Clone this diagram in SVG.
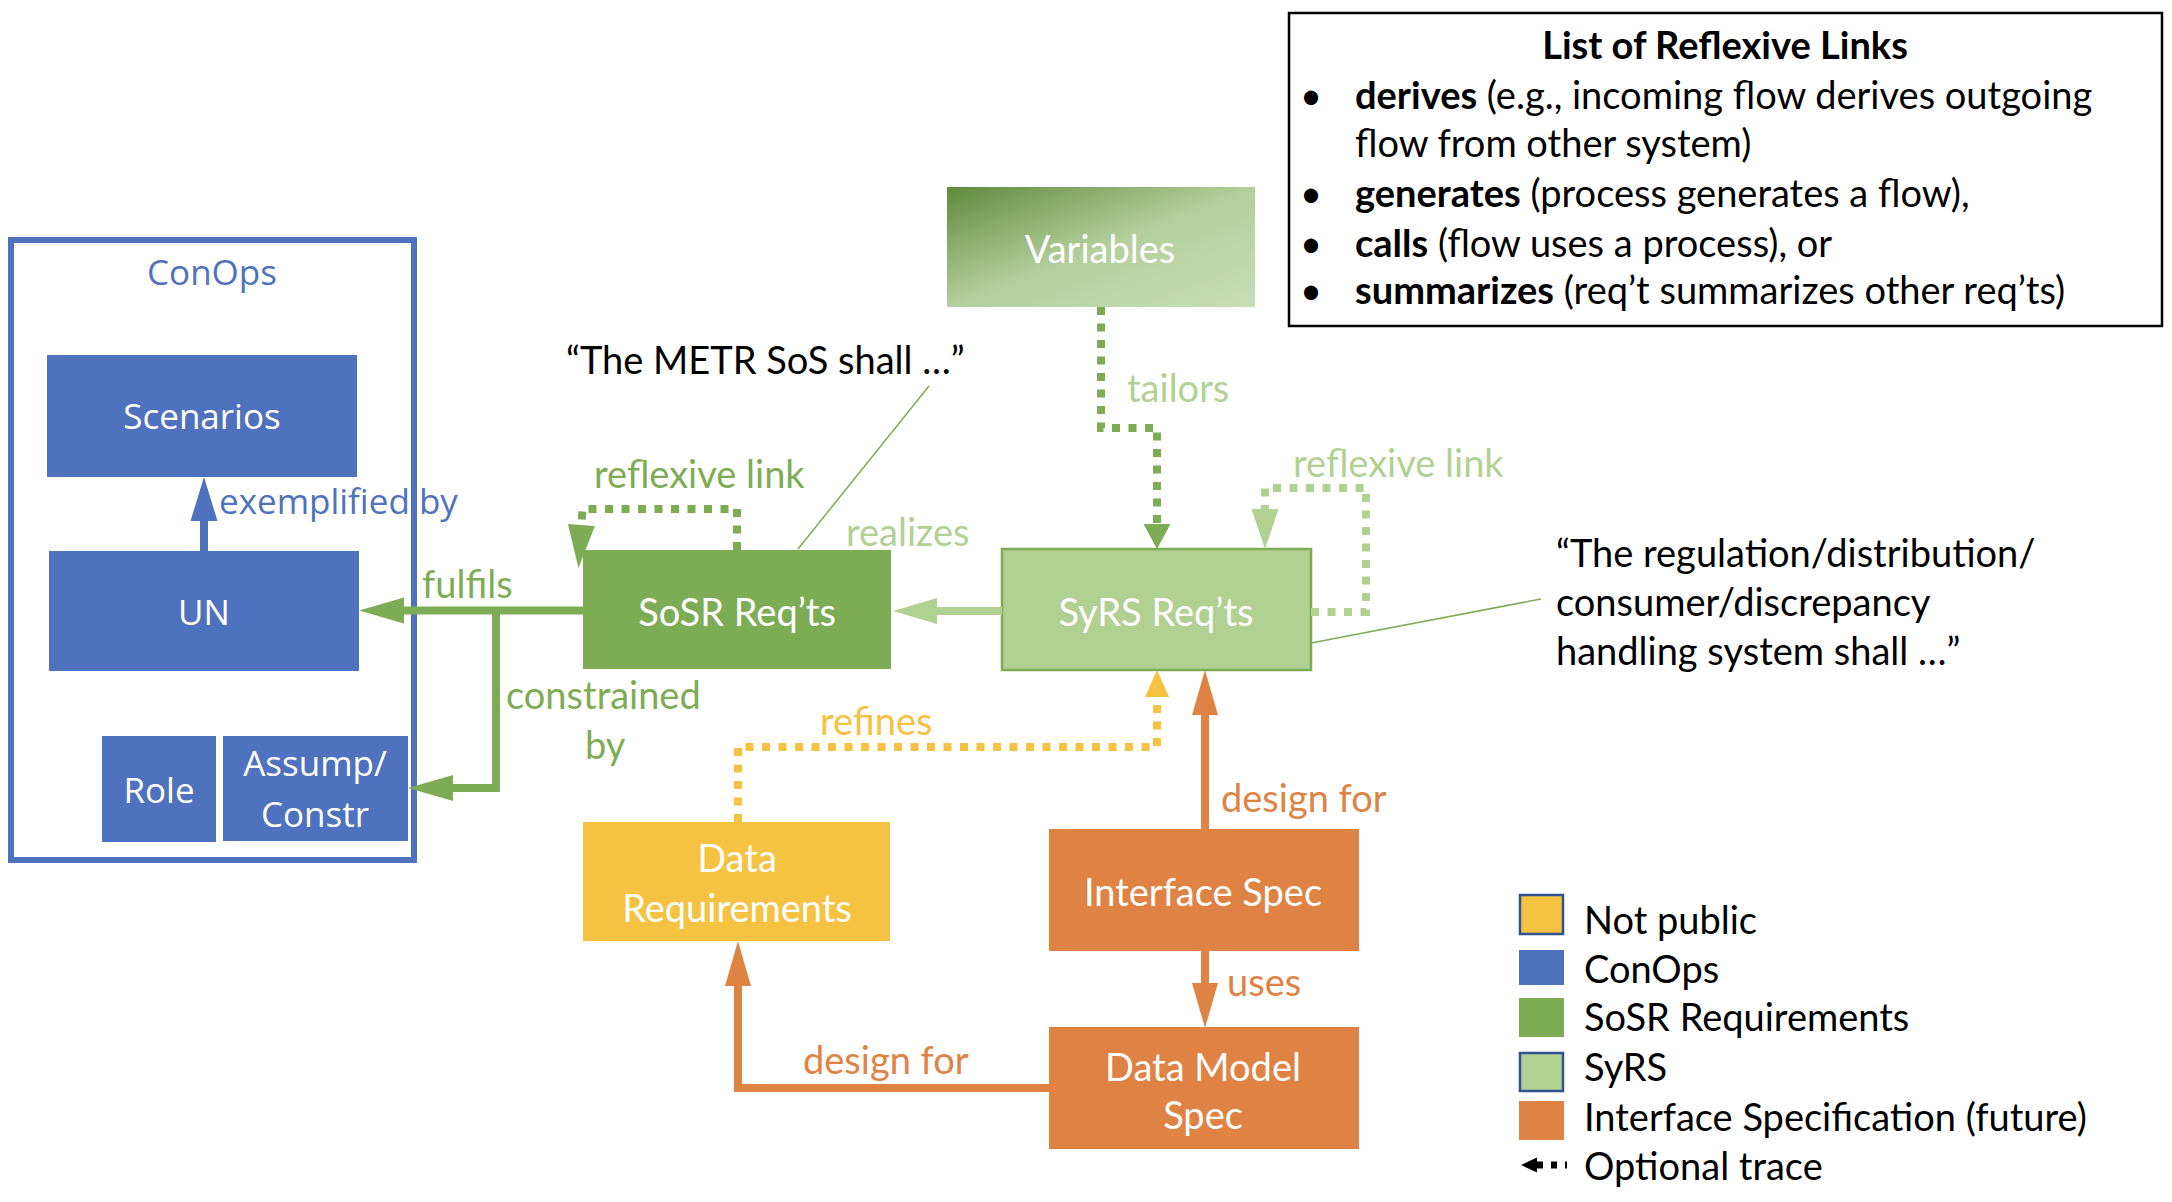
<svg xmlns="http://www.w3.org/2000/svg" width="2172" height="1202" viewBox="0 0 2172 1202">
<style>
.cal{font-family:Lato,"Open Sans",sans-serif;font-size:38px}
.seg{font-family:"Open Sans",sans-serif;font-size:35px}
.mid{text-anchor:middle}
.w{fill:#fff}
.k{fill:#000}
.b{font-weight:bold}
.blue{fill:#4F72BE}
.green{fill:#7EAC55}
.lgreen{fill:#B1D193}
.yellow{fill:#F5C242}
.orange{fill:#DF8344}
.ln{fill:none;stroke-width:8;stroke-linejoin:miter}
.dot{stroke-dasharray:8 8.5}
</style>
<defs>
<linearGradient id="gVar" x1="0" y1="0" x2="1" y2="1">
<stop offset="0" stop-color="#5F8A3B"/>
<stop offset="0.5" stop-color="#B3CF9C"/>
<stop offset="1" stop-color="#C8DEB6"/>
</linearGradient>
<marker id="aBlue" markerUnits="userSpaceOnUse" markerWidth="1" markerHeight="1" orient="auto" overflow="visible"><path d="M0,-13.5 L44,0 L0,13.5 Z" fill="#4F72BE"/></marker>
<marker id="aGreen" markerUnits="userSpaceOnUse" markerWidth="1" markerHeight="1" orient="auto" overflow="visible"><path d="M0,-13 L45,0 L0,13 Z" fill="#7EAC55"/></marker>
<marker id="aGreenS" markerUnits="userSpaceOnUse" markerWidth="1" markerHeight="1" orient="auto" overflow="visible"><path d="M0,-13.5 L25,0 L0,13.5 Z" fill="#7EAC55"/></marker>
<marker id="aGreenR" markerUnits="userSpaceOnUse" markerWidth="1" markerHeight="1" orient="auto" overflow="visible"><path d="M0,-13.5 L43,0 L0,13.5 Z" fill="#7EAC55"/></marker>
<marker id="aLGreen" markerUnits="userSpaceOnUse" markerWidth="1" markerHeight="1" orient="auto" overflow="visible"><path d="M0,-13 L44,0 L0,13 Z" fill="#B1D193"/></marker>
<marker id="aLGreenR" markerUnits="userSpaceOnUse" markerWidth="1" markerHeight="1" orient="auto" overflow="visible"><path d="M0,-13.5 L40,0 L0,13.5 Z" fill="#B1D193"/></marker>
<marker id="aYellow" markerUnits="userSpaceOnUse" markerWidth="1" markerHeight="1" orient="auto" overflow="visible"><path d="M0,-12 L27,0 L0,12 Z" fill="#F5C242"/></marker>
<marker id="aOrange" markerUnits="userSpaceOnUse" markerWidth="1" markerHeight="1" orient="auto" overflow="visible"><path d="M0,-13 L45,0 L0,13 Z" fill="#DF8344"/></marker>
<marker id="aBlack" markerUnits="userSpaceOnUse" markerWidth="1" markerHeight="1" orient="auto" overflow="visible"><path d="M0,-7.5 L16,0 L0,7.5 Z" fill="#000"/></marker>
</defs>
<rect x="0" y="0" width="2172" height="1202" fill="#fff"/>

<g id="conops">
<rect x="11" y="240" width="403" height="620" fill="#fff" stroke="#4F72BE" stroke-width="6"/>
<text class="seg blue mid" x="212" y="285">ConOps</text>
</g>
<g id="scenarios">
<rect x="47" y="355" width="310" height="122" fill="#4F72BE"/>
<text class="seg w mid" x="202" y="429">Scenarios</text>
</g>
<g id="un">
<rect x="49" y="551" width="310" height="120" fill="#4F72BE"/>
<text class="seg w mid" x="204" y="625">UN</text>
</g>
<g id="role">
<rect x="102" y="736" width="114" height="106" fill="#4F72BE"/>
<text class="seg w mid" x="159" y="803">Role</text>
</g>
<g id="assump">
<rect x="223" y="736" width="185" height="105" fill="#4F72BE"/>
<text class="seg w mid" x="315" y="776">Assump/</text>
<text class="seg w mid" x="315" y="827">Constr</text>
</g>
<g id="sosr">
<rect x="583" y="550" width="308" height="119" fill="#7EAC55"/>
<text class="cal w mid" x="737" y="626">SoSR Req’ts</text>
</g>
<g id="syrs">
<rect x="1002" y="549" width="309" height="121" fill="#B1D193" stroke="#7EAC55" stroke-width="2.5"/>
<text class="cal w mid" x="1156" y="626">SyRS Req’ts</text>
</g>
<g id="variables">
<rect x="947" y="187" width="308" height="120" fill="url(#gVar)"/>
<text class="cal w mid" x="1100" y="263">Variables</text>
</g>
<g id="datareq">
<rect x="583" y="822" width="307" height="119" fill="#F5C242"/>
<text class="cal w mid" x="737" y="872">Data</text>
<text class="cal w mid" x="737" y="922">Requirements</text>
</g>
<g id="ifspec">
<rect x="1049" y="829" width="310" height="122" fill="#DF8344"/>
<text class="cal w mid" x="1203" y="906">Interface Spec</text>
</g>
<g id="dmspec">
<rect x="1049" y="1027" width="310" height="122" fill="#DF8344"/>
<text class="cal w mid" x="1203" y="1081">Data Model</text>
<text class="cal w mid" x="1203" y="1129">Spec</text>
</g>

<g id="reflexive-list">
<rect x="1289" y="13" width="873" height="313" fill="#fff" stroke="#000" stroke-width="2.5"/>
<text class="cal k b mid" x="1725" y="59">List of Reflexive Links</text>
<text class="cal k mid" x="1311" y="109">•</text>
<text class="cal k" x="1355" y="109"><tspan class="b">derives</tspan> (e.g., incoming flow derives outgoing</text>
<text class="cal k" x="1355" y="157">flow from other system)</text>
<text class="cal k mid" x="1311" y="207">•</text>
<text class="cal k" x="1355" y="207"><tspan class="b">generates</tspan> (process generates a flow),</text>
<text class="cal k mid" x="1311" y="257">•</text>
<text class="cal k" x="1355" y="257"><tspan class="b">calls</tspan> (flow uses a process), or</text>
<text class="cal k mid" x="1311" y="304">•</text>
<text class="cal k" x="1355" y="304"><tspan class="b">summarizes</tspan> (req’t summarizes other req’ts)</text>
</g>

<g id="annotations">
<text class="cal k" x="566" y="374">“The METR SoS shall …”</text>
<text class="cal k" x="1556" y="567">“The regulation/distribution/</text>
<text class="cal k" x="1556" y="616">consumer/discrepancy</text>
<text class="cal k" x="1556" y="665">handling system shall …”</text>
</g>

<g id="legend">
<rect x="1520" y="895" width="43" height="39" fill="#F5C242" stroke="#2F528F" stroke-width="2.5"/>
<rect x="1519" y="950" width="45" height="35" fill="#4F72BE"/>
<rect x="1519" y="998" width="45" height="39" fill="#7EAC55"/>
<rect x="1520" y="1053" width="43" height="38" fill="#B1D193" stroke="#2F528F" stroke-width="2.5"/>
<rect x="1519" y="1101" width="45" height="39" fill="#DF8344"/>
<path d="M1567,1165 H1537" fill="none" stroke="#000" stroke-width="7" stroke-dasharray="2 8 6 8 6" marker-end="url(#aBlack)"/>
<text class="cal k" x="1584" y="934">Not public</text>
<text class="cal k" x="1584" y="983">ConOps</text>
<text class="cal k" x="1584" y="1031">SoSR Requirements</text>
<text class="cal k" x="1584" y="1081">SyRS</text>
<text class="cal k" x="1584" y="1131">Interface Specification (future)</text>
<text class="cal k" x="1584" y="1180">Optional trace</text>
</g>

<g id="connectors">
<path class="ln" d="M204,551 V521" stroke="#4F72BE" marker-end="url(#aBlue)"/>
<path class="ln" d="M583,610.5 H404" stroke="#7EAC55" marker-end="url(#aGreen)"/>
<path class="ln" d="M496,610.5 V788 H453" stroke="#7EAC55" marker-end="url(#aGreen)"/>
<path class="ln" d="M1002,611 H937" stroke="#B1D193" stroke-width="9" marker-end="url(#aLGreen)"/>
<path class="ln dot" d="M1101,307 V428 H1157 V524" stroke="#7EAC55" marker-end="url(#aGreenS)"/>
<path class="ln dot" d="M1311,612 H1366 V488 H1265 V509" stroke="#B1D193" marker-end="url(#aLGreenR)"/>
<path class="ln dot" d="M737,550 V509 H582.5 L581.4,525" stroke="#7EAC55" marker-end="url(#aGreenR)"/>
<path class="ln dot" d="M738,822 V747 H1157 V697" stroke="#F5C242" marker-end="url(#aYellow)"/>
<path class="ln" d="M1205,829 V715" stroke="#DF8344" marker-end="url(#aOrange)"/>
<path class="ln" d="M1205,951 V983" stroke="#DF8344" marker-end="url(#aOrange)"/>
<path class="ln" d="M1049,1088 H738 V986" stroke="#DF8344" marker-end="url(#aOrange)"/>
<path d="M929,386 L798,549" fill="none" stroke="#7EAC55" stroke-width="1.5"/>
<path d="M1311,643 L1541,599" fill="none" stroke="#7EAC55" stroke-width="1.5"/>
<text class="seg blue" x="219" y="514">exemplified by</text>
<text class="cal green" x="422" y="598">fulfils</text>
<text class="cal green" x="506" y="709">constrained</text>
<text class="cal green" x="585" y="759">by</text>
<text class="cal green" x="594" y="488">reflexive link</text>
<text class="cal lgreen" x="846" y="546">realizes</text>
<text class="cal lgreen" x="1127" y="402">tailors</text>
<text class="cal lgreen" x="1293" y="477">reflexive link</text>
<text class="cal yellow" x="820" y="735">refines</text>
<text class="cal orange" x="1221" y="812">design for</text>
<text class="cal orange" x="1227" y="996">uses</text>
<text class="cal orange" x="803" y="1074">design for</text>
</g>
</svg>
